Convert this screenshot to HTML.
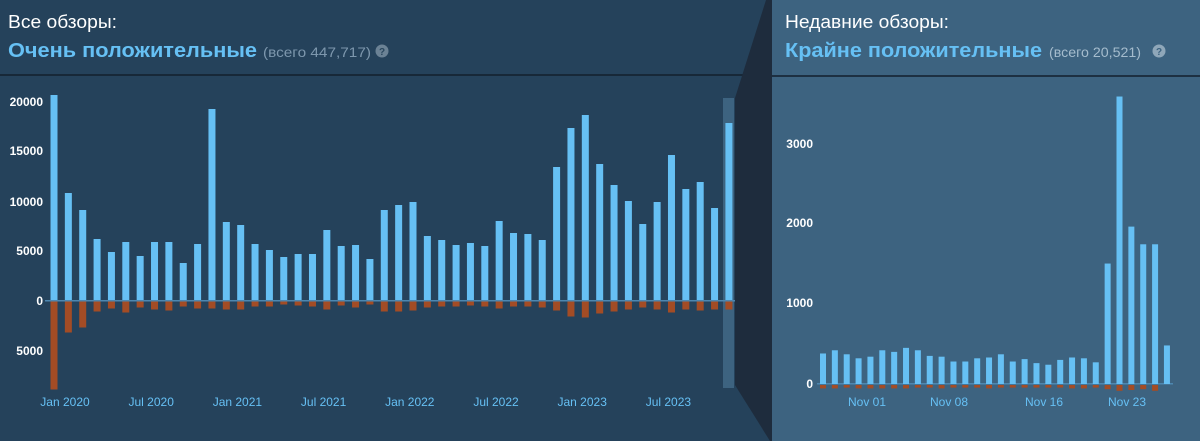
<!DOCTYPE html>
<html><head><meta charset="utf-8"><style>
html,body{margin:0;padding:0;width:1200px;height:441px;overflow:hidden;background:#25425b;font-family:"Liberation Sans","DejaVu Sans",sans-serif;}
</style></head><body>
<svg id="s" width="1200" height="441" xmlns="http://www.w3.org/2000/svg" style="position:absolute;left:0;top:0">
<rect x="0" y="0" width="772" height="441" fill="#25425b"/>
<rect x="772" y="0" width="428" height="441" fill="#3d6380"/>
<line x1="0" y1="75" x2="768" y2="75" stroke="#13202d" stroke-width="1.5"/>
<line x1="772" y1="76" x2="1200" y2="76" stroke="#13202d" stroke-width="1.5"/>
<rect x="723" y="98" width="11" height="290" fill="#3d6380"/>
<polygon points="766,0 772,0 772,441 770,441 735,385 735,98" fill="#1e2c3d"/>
<text x="8" y="28" fill="#ffffff" font-size="18" textLength="109" lengthAdjust="spacingAndGlyphs">Все обзоры:</text>
<text x="8" y="57" fill="#66c0f4" font-size="20" font-weight="bold" textLength="249" lengthAdjust="spacingAndGlyphs">Очень положительные</text>
<text x="263" y="57" fill="#7d97ad" font-size="14" textLength="108" lengthAdjust="spacingAndGlyphs">(всего 447,717)</text>
<circle cx="382" cy="51" r="6.5" fill="#6b8295"/><text x="382" y="55" fill="#2a475e" font-size="10" text-anchor="middle" font-weight="bold">?</text>
<text x="785" y="28" fill="#ffffff" font-size="18" textLength="164" lengthAdjust="spacingAndGlyphs">Недавние обзоры:</text>
<text x="785" y="57" fill="#66c0f4" font-size="20" font-weight="bold" textLength="257" lengthAdjust="spacingAndGlyphs">Крайне положительные</text>
<text x="1049" y="57" fill="#a5bccd" font-size="14" textLength="92" lengthAdjust="spacingAndGlyphs">(всего 20,521)</text>
<circle cx="1159" cy="51" r="6.5" fill="#8fa7b9"/><text x="1159" y="55" fill="#3d6380" font-size="10" text-anchor="middle" font-weight="bold">?</text>
<g id="g" font-size="12" font-weight="bold" fill="#ffffff"></g>
</svg>
<script>
var g=document.getElementById('g'),h='';
function R(x,y,w,hh,c){h+='<rect x="'+x+'" y="'+y+'" width="'+w+'" height="'+hh+'" fill="'+c+'"/>';}
function T(x,y,t,a,c,s,b){h+='<text x="'+x+'" y="'+y+'" text-anchor="'+a+'" fill="'+c+'" font-size="'+s+'" font-weight="'+(b?'bold':'normal')+'">'+t+'</text>';}
var P=[20500,10700,9000,6100,4800,5800,4400,5800,5800,3700,5600,19100,7800,7500,5600,5000,4300,4600,4600,7000,5400,5500,4100,9000,9500,9800,6400,6000,5500,5700,5400,7900,6700,6600,6000,13300,17200,18500,13600,11500,9900,7600,9800,14500,11100,11800,9200,17700];
var N=[8800,3100,2600,1000,700,1100,600,800,900,500,700,700,800,800,500,500,300,400,500,800,400,600,300,1000,1000,900,600,500,500,400,500,700,500,500,600,900,1500,1600,1200,1000,800,600,800,1100,800,900,800,800];
R(45,300,690,1.5,'#4d87b0');
for(var i=0;i<48;i++){var x=50.5+i*14.36,p=P[i]/100,n=N[i]/100;R(x,300-p,7,p,'#66c0f4');R(x,301.5,7,n,'#a34c25');}
T(43,106,'20000','end','#fff',12,1);T(43,155,'15000','end','#fff',12,1);T(43,206,'10000','end','#fff',12,1);T(43,255,'5000','end','#fff',12,1);T(43,305,'0','end','#fff',12,1);T(43,355,'5000','end','#fff',12,1);
var L=['Jan 2020','Jul 2020','Jan 2021','Jul 2021','Jan 2022','Jul 2022','Jan 2023','Jul 2023'];
for(var i=0;i<8;i++)T(65+i*86.2,406,L[i],'middle','#66c0f4',12,0);
var Q=[380,420,370,320,340,420,400,450,420,350,340,280,280,320,330,370,280,310,260,240,300,330,320,270,1500,3580,1960,1740,1740,480];
var M=[30,30,20,30,30,30,30,30,20,20,30,20,20,20,30,20,20,20,20,20,20,30,30,20,40,60,50,40,60,0];
R(817,383,356,1.5,'#4d87b0');
for(var i=0;i<30;i++){var x=820+i*11.86,p=Q[i]*0.0803,n=M[i]*0.08;R(x,384-p,6,p,'#66c0f4');if(n)R(x,385,6,n+1,'#a34c25');}
T(813,148,'3000','end','#fff',12,1);T(813,227,'2000','end','#fff',12,1);T(813,307,'1000','end','#fff',12,1);T(813,388,'0','end','#fff',12,1);
T(867,406,'Nov 01','middle','#66c0f4',12,0);T(949,406,'Nov 08','middle','#66c0f4',12,0);T(1044,406,'Nov 16','middle','#66c0f4',12,0);T(1127,406,'Nov 23','middle','#66c0f4',12,0);
g.innerHTML=h;
</script>
</body></html>
